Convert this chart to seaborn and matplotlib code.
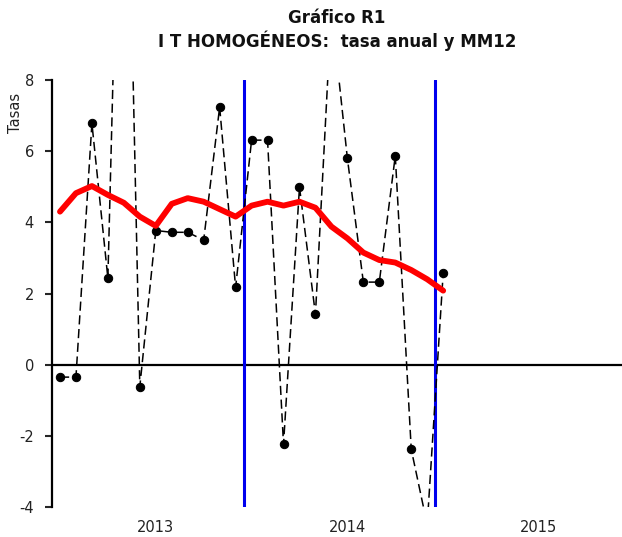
import numpy as np
import pandas as pd
import matplotlib
matplotlib.use("Agg")
import matplotlib.pyplot as plt
import seaborn as sns

# Monthly data, Jan 2013 .. Jan 2015
months = list(range(25))
tasa_anual = [-0.35, -0.35, 6.78, 2.43, 20.0, -0.62, 3.77, 3.72, 3.72, 3.50, 7.24, 2.17,
              6.31, 6.31, -2.24, 4.99, 1.41, 10.0, 5.80, 2.32, 2.32, 5.87, -2.38, -4.5,
              2.57]
mm12 = [4.30, 4.82, 5.02, 4.77, 4.55, 4.16, 3.90, 4.52, 4.68, 4.58, 4.37, 4.16,
        4.47, 4.58, 4.47, 4.58, 4.41, 3.88, 3.55, 3.15, 2.94, 2.87, 2.66, 2.40,
        2.08]
year_pos = [6, 18, 30]
year_labels = ["2013", "2014", "2015"]
year_breaks = [11.5, 23.5]
yticks = [-4, -2, 0, 2, 4, 6, 8]

df = pd.DataFrame({"mes": months, "tasa": tasa_anual, "mm12": mm12})

sns.set_style("white")
plt.rcParams['font.family'] = ['DejaVu Sans']

fig = plt.figure(figsize=(6.22, 5.37), dpi=100)
ax = fig.add_axes([52 / 622, 1 - 507 / 537, 1 - 52 / 622, (507 - 80) / 537])

ax.axhline(0, color="black", lw=1.6, zorder=1)
for xb in year_breaks:
    ax.axvline(xb, color="#0000ee", lw=2.2, zorder=2)

sns.lineplot(data=df, x="mes", y="tasa", ax=ax, color="black", lw=1.1,
             linestyle=(0, (6, 3)), marker="o", markersize=6,
             markeredgecolor="black", zorder=3)
sns.lineplot(data=df, x="mes", y="mm12", ax=ax, color="#ff0000", lw=4.2,
             zorder=4)

ax.set_xlim(-0.5, 35.2)
ax.set_ylim(-4, 8)
ax.set_yticks(yticks)
ax.set_yticklabels([str(v) for v in yticks])
ax.set_xticks(year_pos)
ax.set_xticklabels(year_labels)
ax.tick_params(axis="x", length=0, pad=9, labelsize=10.5, labelcolor="#222222")
ax.tick_params(axis="y", direction="out", length=5, width=1.5, pad=8,
               labelsize=10.5, labelcolor="#222222", left=True)

for s in ["top", "right", "bottom"]:
    ax.spines[s].set_visible(False)
ax.spines["left"].set_color("black")
ax.spines["left"].set_linewidth(1.6)

ax.set_xlabel("")
ax.set_ylabel("Tasas", fontsize=10.5, color="#222222")
ax.yaxis.set_label_coords(-0.051, 0.924)

ax.set_title("Gráfico R1\nI T HOMOGÉNEOS:  tasa anual y MM12", fontsize=12,
             fontweight="bold", color="#111111", pad=24, linespacing=1.2)

fig.savefig("out.png", dpi=100)
